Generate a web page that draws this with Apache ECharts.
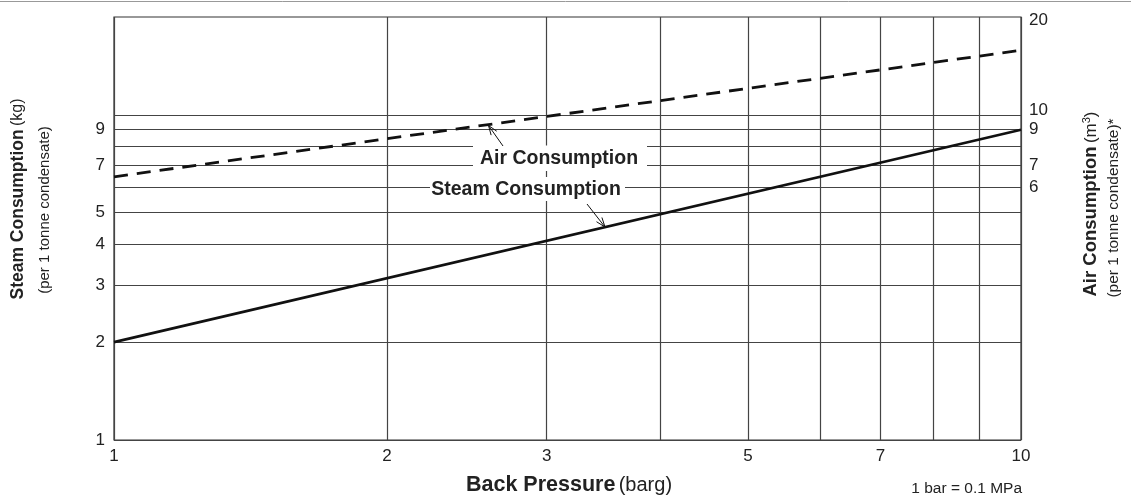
<!DOCTYPE html>
<html>
<head>
<meta charset="utf-8">
<script src="https://cdn.jsdelivr.net/npm/echarts@6/dist/echarts.min.js"></script>
<style>html,body{margin:0;padding:0;background:#fff;}#c{width:1131px;height:498px;}</style>
</head>
<body>
<div id="c"></div>
<script>
// ---- data ----
const pressure = [1, 10];            // back pressure (barg)
const steamUse = [2, 9];             // kg per tonne condensate
const airUse = [6.45, 15.8];         // m3 per tonne condensate
const xGrid = [1, 2, 3, 4, 5, 6, 7, 8, 9, 10];
const xLabels = [1, 2, 3, 5, 7, 10];
const yGrid = [1, 2, 3, 4, 5, 6, 7, 8, 9, 10];
const leftLabels = [1, 2, 3, 4, 5, 7, 9];
const rightLabels = [6, 7, 9, 10, 20];

const FONT = 'Liberation Sans, Arial, Helvetica, sans-serif';
const TXT = '#222';
const GRID = '#444';

const chart = echarts.init(document.getElementById('c'), null, {renderer: 'canvas'});

const lblStyle = {color: TXT, fontSize: 17, fontFamily: FONT};

const steamMarks = [];
xGrid.forEach(v => {
  const show = xLabels.includes(v);
  steamMarks.push({xAxis: v, label: Object.assign({show: show, position: 'start', distance: 8, formatter: String(v)}, lblStyle)});
});
yGrid.forEach(v => {
  const show = leftLabels.includes(v);
  steamMarks.push({yAxis: v, label: Object.assign({show: show, position: 'start', distance: 9, formatter: String(v)}, lblStyle)});
});
// nudge crowded right labels (10 sits just above its line, 20 just below the top)
const rightPad = {10: [0, 0, 10, 0], 20: [6, 0, 0, 0]};
const airMarks = rightLabels.map(v => ({yAxis: v, label: {
  show: true, position: 'end', distance: 8, formatter: '{t|' + v + '}',
  rich: {t: Object.assign({padding: rightPad[v] || 0}, lblStyle)}
}}));

function arrow(tail, tip, len, ang) {
  const dx = tail[0] - tip[0], dy = tail[1] - tip[1];
  const d = Math.hypot(dx, dy), ux = dx / d, uy = dy / d;
  const c = Math.cos(ang), s = Math.sin(ang);
  const a = [tip[0] + len * (ux * c - uy * s), tip[1] + len * (ux * s + uy * c)];
  const b = [tip[0] + len * (ux * c + uy * s), tip[1] + len * (-ux * s + uy * c)];
  return [
    {type: 'polyline', z: 110, shape: {points: [tail, tip]}, style: {stroke: '#111', lineWidth: 1, fill: null}},
    {type: 'polyline', z: 110, shape: {points: [a, tip, b]}, style: {stroke: '#111', lineWidth: 1, fill: null}}
  ];
}

const option = {
  animation: false,
  grid: {left: 114, right: 110, top: 17, bottom: 58, show: true, borderColor: '#333', borderWidth: 1.2},
  xAxis: {type: 'log', logBase: 10, min: 1, max: 10,
    axisLine: {show: false}, axisTick: {show: false}, axisLabel: {show: false}, splitLine: {show: false}},
  yAxis: [
    {type: 'log', logBase: 10, min: 1, max: 20, position: 'left',
      axisLine: {show: false}, axisTick: {show: false}, axisLabel: {show: false}, splitLine: {show: false}},
    {type: 'log', logBase: 10, min: 1, max: 20, position: 'right',
      axisLine: {show: false}, axisTick: {show: false}, axisLabel: {show: false}, splitLine: {show: false}}
  ],
  series: [
    {
      name: 'Steam Consumption', type: 'line', yAxisIndex: 0, symbol: 'none', z: 5,
      data: pressure.map((p, i) => [p, steamUse[i]]),
      lineStyle: {color: '#111', width: 2.6},
      markLine: {silent: true, symbol: ['none', 'none'], animation: false, z: 1,
        lineStyle: {color: GRID, width: 1.2, type: 'solid'}, emphasis: {disabled: true},
        data: steamMarks}
    },
    {
      name: 'Air Consumption', type: 'line', yAxisIndex: 1, symbol: 'none', z: 5,
      data: pressure.map((p, i) => [p, airUse[i]]),
      lineStyle: {color: '#111', width: 2.8, type: [14, 9]},
      markLine: {silent: true, symbol: ['none', 'none'], animation: false, z: 1,
        lineStyle: {color: 'rgba(0,0,0,0)', width: 1, type: 'solid'}, emphasis: {disabled: true},
        data: airMarks}
    }
  ],
  graphic: [
    {type: 'line', z: 100, shape: {x1: 0, y1: 1.5, x2: 1131, y2: 1.5}, style: {stroke: '#999', lineWidth: 1}},
    {type: 'rect', z: 100, shape: {x: 473, y: 145.5, width: 174, height: 25.5}, style: {fill: '#fff'}},
    {type: 'rect', z: 100, shape: {x: 430, y: 177, width: 195, height: 24}, style: {fill: '#fff'}},
    {type: 'text', z: 105, x: 559, y: 159, style: {text: 'Air Consumption', fontSize: 19.5, fontWeight: 'bold', fontFamily: FONT, fill: TXT, align: 'center', verticalAlign: 'middle'}},
    {type: 'text', z: 105, x: 526, y: 190, style: {text: 'Steam Consumption', fontSize: 19.5, fontWeight: 'bold', fontFamily: FONT, fill: TXT, align: 'center', verticalAlign: 'middle'}},
    ...arrow([503, 146], [488.5, 125.5], 10, 0.35),
    ...arrow([587, 204], [605, 227], 10, 0.35),
    // left axis title
    {type: 'text', z: 105, x: 18, y: 199, rotation: Math.PI / 2,
      style: {text: '{b|Steam Consumption} {n|(kg)}', align: 'center', verticalAlign: 'middle', fontFamily: FONT, fill: TXT,
        rich: {b: {fontSize: 17.5, fontWeight: 'bold', fontFamily: FONT, fill: TXT}, n: {fontSize: 16, fontFamily: FONT, fill: TXT}}}},
    {type: 'text', z: 105, x: 45, y: 210, rotation: Math.PI / 2,
      style: {text: '(per 1 tonne condensate)', align: 'center', verticalAlign: 'middle', fontSize: 15, fontFamily: FONT, fill: TXT}},
    // right axis title
    {type: 'text', z: 105, x: 1091, y: 204, rotation: Math.PI / 2,
      style: {text: '{b|Air Consumption} {n|(m}{s|3}{n|)}', align: 'center', verticalAlign: 'middle', fontFamily: FONT, fill: TXT,
        rich: {b: {fontSize: 18.5, fontWeight: 'bold', fontFamily: FONT, fill: TXT}, n: {fontSize: 17, fontFamily: FONT, fill: TXT},
          s: {fontSize: 11, fontFamily: FONT, fill: TXT, verticalAlign: 'top'}}}},
    {type: 'text', z: 105, x: 1114, y: 208, rotation: Math.PI / 2,
      style: {text: '(per 1 tonne condensate)*', align: 'center', verticalAlign: 'middle', fontSize: 15.5, fontFamily: FONT, fill: TXT}},
    // x axis title
    {type: 'text', z: 105, x: 569, y: 485,
      style: {text: '{b|Back Pressure} {n|(barg)}', align: 'center', verticalAlign: 'middle', fontFamily: FONT, fill: TXT,
        rich: {b: {fontSize: 21.5, fontWeight: 'bold', fontFamily: FONT, fill: TXT}, n: {fontSize: 20, fontFamily: FONT, fill: TXT}}}},
    {type: 'text', z: 105, x: 1022, y: 489,
      style: {text: '1 bar = 0.1 MPa', align: 'right', verticalAlign: 'middle', fontSize: 15.5, fontFamily: FONT, fill: TXT}}
  ]
};
chart.setOption(option);
</script>
</body>
</html>
